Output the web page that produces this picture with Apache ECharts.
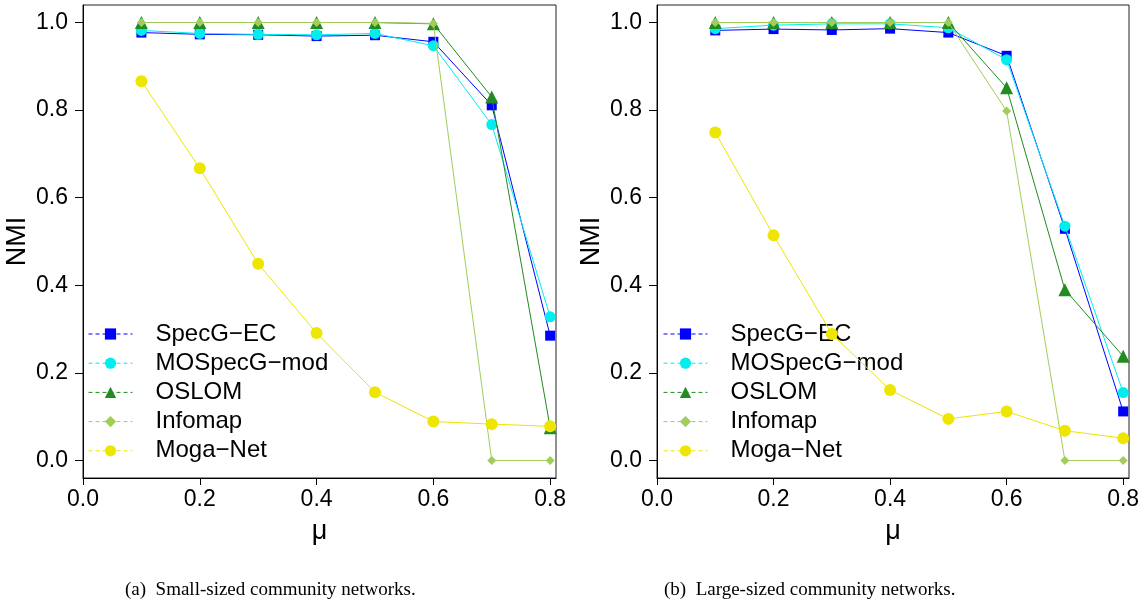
<!DOCTYPE html>
<html>
<head>
<meta charset="utf-8">
<script src="https://cdn.jsdelivr.net/npm/echarts@6/dist/echarts.min.js"></script>
<style>
  html, body { margin: 0; padding: 0; background: #fff; }
  #chart { width: 1148px; height: 605px; }
</style>
</head>
<body>
<div id="chart"></div>
<script>
// Mixing parameter values on the x axis
const mu = [0.1, 0.2, 0.3, 0.4, 0.5, 0.6, 0.7, 0.8];

// NMI, small-sized community networks
const smallSpecGEC    = [0.977, 0.973, 0.972, 0.969, 0.971, 0.956, 0.811, 0.285];
const smallMOSpecGmod = [0.982, 0.975, 0.973, 0.972, 0.975, 0.947, 0.767, 0.328];
const smallOSLOM      = [1.000, 1.000, 1.000, 1.000, 1.000, 0.997, 0.830, 0.075];
const smallInfomap    = [1.000, 1.000, 1.000, 1.000, 1.000, 0.998, 0.000, 0.000];
const smallMogaNet    = [0.866, 0.667, 0.449, 0.291, 0.156, 0.089, 0.083, 0.078];

// NMI, large-sized community networks
const largeSpecGEC    = [0.982, 0.985, 0.983, 0.986, 0.977, 0.924, 0.529, 0.112];
const largeMOSpecGmod = [0.986, 0.994, 0.997, 0.997, 0.988, 0.915, 0.535, 0.155];
const largeOSLOM      = [1.000, 1.000, 1.000, 1.000, 1.000, 0.851, 0.390, 0.238];
const largeInfomap    = [1.000, 1.000, 1.000, 1.000, 1.000, 0.798, 0.000, 0.000];
const largeMogaNet    = [0.749, 0.514, 0.289, 0.161, 0.095, 0.112, 0.068, 0.051];

// Axis ticks and labels
const xTicks = [0.0, 0.2, 0.4, 0.6, 0.8];
const yTicks = [0.0, 0.2, 0.4, 0.6, 0.8, 1.0];
const seriesNames = ['SpecG\u2212EC', 'MOSpecG\u2212mod', 'OSLOM', 'Infomap', 'Moga\u2212Net'];
const captions = ['(a)  Small-sized community networks.', '(b)  Large-sized community networks.'];

const styles = [
  { color: '#0000FF', symbol: 'rect',     size: 10 },
  { color: '#00EEEE', symbol: 'circle',   size: 11 },
  { color: '#228B22', symbol: 'triangle', size: 13 },
  { color: '#A2CD5A', symbol: 'diamond',  size: 9 },
  { color: '#EEE600', symbol: 'circle',   size: 12 }
];

const panels = [
  [smallSpecGEC, smallMOSpecGmod, smallOSLOM, smallInfomap, smallMogaNet],
  [largeSpecGEC, largeMOSpecGmod, largeOSLOM, largeInfomap, largeMogaNet]
];

const SANS = 'Liberation Sans';
const fmt = v => v.toFixed(1);

const grids = [
  { left: 83, top: 5, width: 473, height: 473 },
  { left: 657, top: 5, width: 472, height: 473 }
];

const xAxes = grids.map((g, i) => ({
  type: 'value', gridIndex: i, min: 0, max: 0.81,
  name: '\u03bc', nameLocation: 'middle', nameGap: 40,
  nameTextStyle: { fontFamily: SANS, fontSize: 27, color: '#000' },
  axisLine: { show: true, onZero: false, lineStyle: { color: '#000', width: 1 } },
  axisTick: { show: true, length: 7, customValues: xTicks, lineStyle: { color: '#000' } },
  axisLabel: { customValues: xTicks, formatter: fmt, fontFamily: SANS, fontSize: 23, color: '#000', margin: 10 },
  splitLine: { show: false }
}));

const yAxes = grids.map((g, i) => ({
  type: 'value', gridIndex: i, min: -0.04, max: 1.04,
  name: 'NMI', nameLocation: 'middle', nameGap: 52, nameRotate: 90,
  nameTextStyle: { fontFamily: SANS, fontSize: 27, color: '#000' },
  axisLine: { show: true, lineStyle: { color: '#000', width: 1 } },
  axisTick: { show: true, length: 8, customValues: yTicks, lineStyle: { color: '#000' } },
  axisLabel: { customValues: yTicks, formatter: fmt, fontFamily: SANS, fontSize: 23, color: '#000', margin: 15 },
  splitLine: { show: false }
}));

const series = [];
panels.forEach((vals, p) => {
  vals.forEach((arr, k) => {
    const st = styles[k];
    series.push({
      type: 'line', name: seriesNames[k], xAxisIndex: p, yAxisIndex: p,
      data: mu.map((x, j) => [x, arr[j]]),
      symbol: st.symbol, symbolSize: st.size, showSymbol: true,
      lineStyle: { color: st.color, width: 1 },
      itemStyle: { color: st.color, borderWidth: 0 },
      emphasis: { disabled: true },
      z: 2 + k
    });
  });
});

const legendBase = {
  orient: 'vertical', padding: 0, itemWidth: 44, itemHeight: 14, itemGap: 7.6,
  selectedMode: false, data: seriesNames,
  lineStyle: { type: [4, 3], width: 1 },
  textStyle: { fontFamily: SANS, fontSize: 24, color: '#000', lineHeight: 21, padding: [0, 0, 0, 18] }
};

const option = {
  animation: false,
  backgroundColor: '#fff',
  title: [
    { text: captions[0], left: 120, top: 576, textStyle: { fontFamily: 'Liberation Serif', fontSize: 19, fontWeight: 'normal', color: '#000' } },
    { text: captions[1], left: 659, top: 576, textStyle: { fontFamily: 'Liberation Serif', fontSize: 19, fontWeight: 'normal', color: '#000' } }
  ],
  grid: grids.map(g => Object.assign({ show: true, borderColor: '#222', borderWidth: 1, containLabel: false }, g)),
  xAxis: xAxes,
  yAxis: yAxes,
  legend: [
    Object.assign({ left: 88, top: 322 }, legendBase),
    Object.assign({ left: 663, top: 322 }, legendBase)
  ],
  series: series
};
// rows are taller than the nominal lineHeight, so tighten the gap
option.legend.forEach(l => { l.itemGap = 5.2; });

const chart = echarts.init(document.getElementById('chart'), null, { renderer: 'canvas' });
chart.setOption(option);
</script>
</body>
</html>
